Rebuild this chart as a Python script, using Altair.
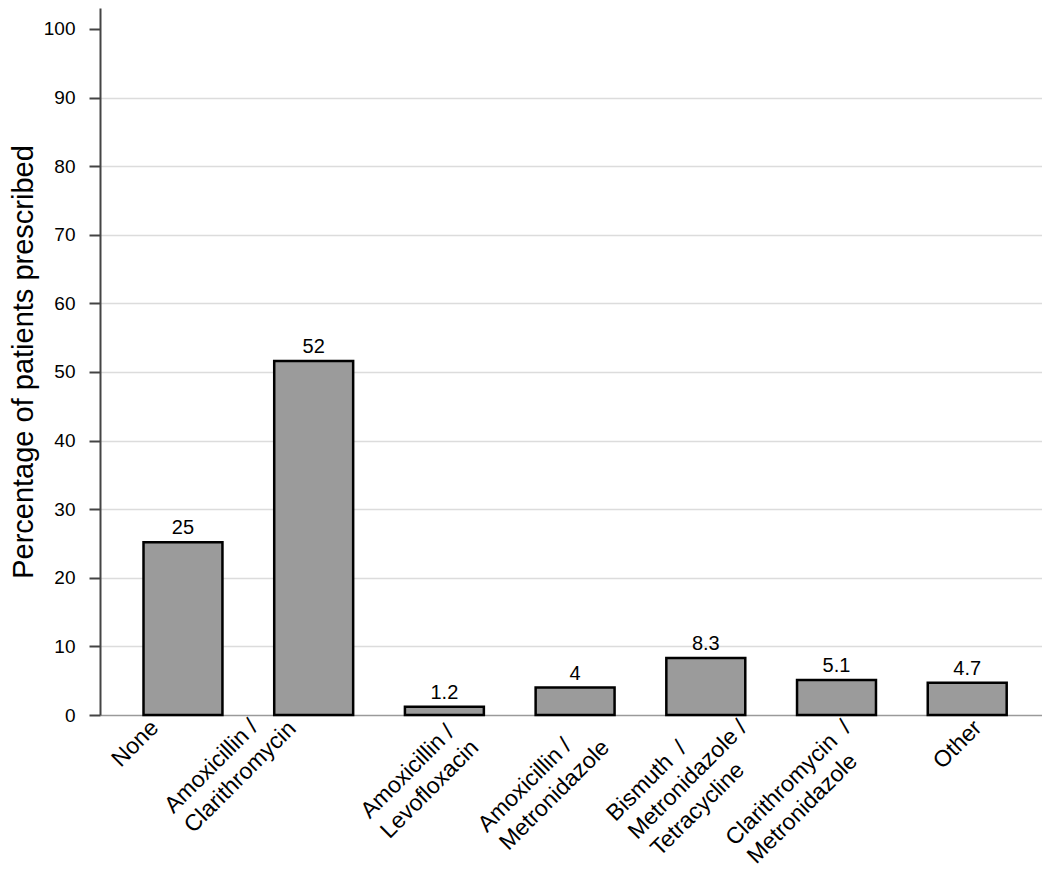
import altair as alt
import pandas as pd

# ---- data ----
categories = [
    "None",
    "Amoxicillin /\nClarithromycin",
    "Amoxicillin /\nLevofloxacin",
    "Amoxicillin /\nMetronidazole",
    "Bismuth  /\nMetronidazole /\nTetracycline",
    "Clarithromycin  /\nMetronidazole",
    "Other",
]
percent = [25.2, 51.6, 1.2, 4.0, 8.3, 5.1, 4.7]
y_ticks = [0, 10, 20, 30, 40, 50, 60, 70, 80, 90, 100]

FONT = "Liberation Sans, Arial, Helvetica, sans-serif"

# approximate Arial advance widths (per 1000 em), used to left-align the lines
# of each right-aligned rotated label by padding the shorter lines with
# no-break spaces (closed with a zero-width space so they are not trimmed)
W = {"A": 667, "B": 667, "C": 722, "L": 556, "M": 833, "N": 722, "O": 778,
     "T": 611, "a": 556, "b": 556, "c": 500, "d": 556, "e": 556, "f": 278,
     "h": 556, "i": 222, "l": 222, "m": 833, "n": 556, "o": 556, "r": 333,
     "s": 500, "t": 278, "u": 556, "v": 500, "x": 500, "y": 500, "z": 500,
     " ": 278, "/": 278, "\u00a0": 278}


def tw(s):
    return sum(W.get(ch, 556) for ch in s)


def pad(label):
    # keep double spaces visible (SVG would collapse them)
    lines = [l.replace("  ", " \u00a0") for l in label.split("\n")]
    m = max(tw(l) for l in lines)
    out = []
    for l in lines:
        n = round((m - tw(l)) / 278)
        out.append(l + ("\u00a0" * n + "\u200b" if n else ""))
    return "\n".join(out)


labels = [pad(c) for c in categories]
df = pd.DataFrame({"cat": labels, "pct": percent})

IS_NONE = "datum.value === 'None'"
IS_AC = "indexof(datum.value, 'Amoxicillin') === 0 && indexof(datum.value, 'Clarithromycin') > 0"
IS_BIS = "indexof(datum.value, 'Bismuth') === 0"

label_shift = {
    "condition": [
        {"test": IS_NONE, "value": -36},
        {"test": IS_AC, "value": -49},
        {"test": IS_BIS, "value": 10},
    ],
    "value": 3,
}
label_pad = {
    "condition": [
        {"test": IS_AC, "value": -18},
        {"test": IS_BIS, "value": -19},
    ],
    "value": 1,
}

x = alt.X(
    "cat:N",
    sort=labels,
    title=None,
    scale=alt.Scale(paddingInner=0.396, paddingOuter=0.3015, align=0.552),
    axis=alt.Axis(
        labelAngle=-45,
        labelAlign="right",
        labelBaseline="top",
        labelExpr="split(datum.label, '\\n')",
        labelFont=FONT,
        labelFontSize=23,
        labelLineHeight=28,
        labelColor="#000000",
        labelLimit=500,
        labelPadding=label_pad,
        labelOffset=label_shift,
        ticks=False,
        tickSize=0,
        domain=False,
        grid=False,
    ),
)

y = alt.Y(
    "pct:Q",
    title="Percentage of patients prescribed",
    scale=alt.Scale(domain=[0, 103.06], nice=False, zero=True),
    axis=alt.Axis(
        values=y_ticks,
        labelFont=FONT,
        labelFontSize=19,
        labelColor="#000000",
        labelPadding=14,
        tickSize=11,
        tickWidth=2,
        tickColor="#444444",
        domainColor="#444444",
        domainWidth=2,
        grid=True,
        gridColor={"condition": {"test": "datum.value === 0", "value": "#9a9a9a"}, "value": "#dcdcdc"},
        gridOpacity={"condition": {"test": "datum.value >= 100", "value": 0}, "value": 1},
        gridWidth=1.5,
        titleFont=FONT,
        titleFontSize=29,
        titleFontWeight="normal",
        titleColor="#000000",
        titleX=-68,
        titleBaseline="alphabetic",
    ),
)

bars = alt.Chart(df).mark_bar(
    color="#9b9b9b", stroke="#000000", strokeWidth=2.5
).encode(x=x, y=y)

text = alt.Chart(df).mark_text(
    dy=-8, baseline="alphabetic", font=FONT, fontSize=20, color="#000000"
).encode(x=x, y=y, text=alt.Text("pct:Q", format=".2~r"))

chart = (
    alt.layer(bars, text)
    .properties(
        width=942,
        height=707,
        padding={"left": 92, "top": 0, "right": 0, "bottom": 150},
        autosize="none",
        background="#ffffff",
    )
    .configure_view(stroke=None)
)

chart.save("out.html", embed_options={"renderer": "svg", "actions": False})
